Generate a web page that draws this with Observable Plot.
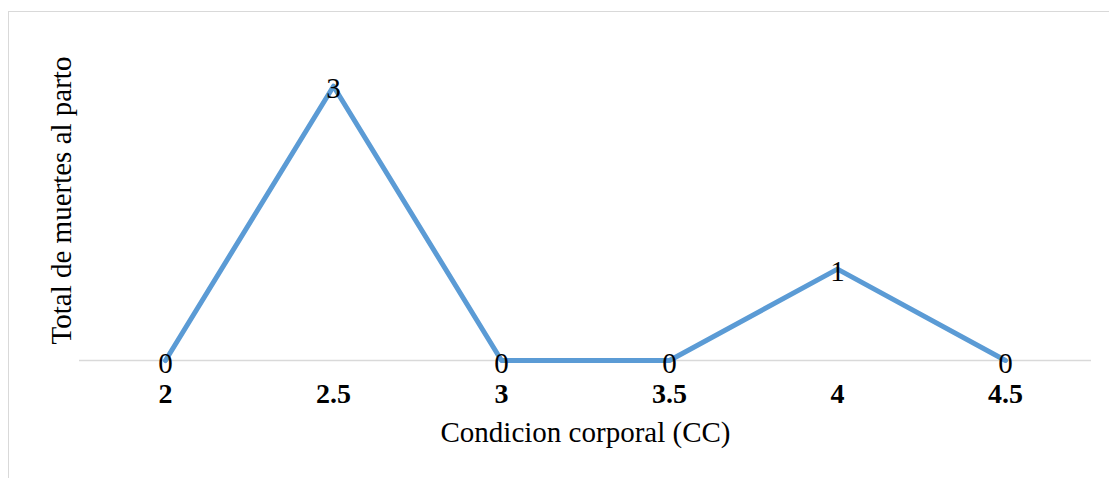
<!DOCTYPE html>
<html>
<head>
<meta charset="utf-8">
<script src="https://cdn.jsdelivr.net/npm/d3@7"></script>
<script src="https://cdn.jsdelivr.net/npm/@observablehq/plot@0.6"></script>
<style>
  body { margin: 0; background: #fff; }
  #chart { position: relative; width: 1109px; height: 478px; overflow: hidden; }
  #chart .border { position: absolute; left: 8px; top: 11px; width: 1200px; height: 600px;
                   border: 1px solid #d9d9d9; box-sizing: border-box; }
  #chart svg { position: absolute; left: 0; top: 0; }
  #chart svg [aria-label="x-axis tick label"] text { font-weight: bold; }
</style>
</head>
<body>
<div id="chart"><div class="border"></div></div>
<script>
// Body condition score categories and total deaths at calving
const condicion = ["2", "2.5", "3", "3.5", "4", "4.5"];
const muertes = [0, 3, 0, 0, 1, 0];
const tituloX = "Condicion corporal (CC)";
const tituloY = "Total de muertes al parto";

const data = condicion.map((c, i) => ({cc: c, total: muertes[i]}));
const serif = "'Liberation Serif', 'Times New Roman', Times, serif";

const chart = Plot.plot({
  width: 1109,
  height: 478,
  marginLeft: 79,
  marginRight: 18,
  marginTop: 40,
  marginBottom: 118,
  style: {fontFamily: serif, background: "transparent", color: "#000", overflow: "visible"},
  x: {type: "point", domain: condicion, padding: 0.5, axis: null},
  y: {domain: [0, 3.5], axis: null},
  marks: [
    Plot.ruleY([0], {stroke: "#d9d9d9", strokeWidth: 1.5}),
    Plot.axisX({tickSize: 0, tickPadding: 23, fontSize: 28, fontWeight: "bold", fill: "#000", label: null}),
    Plot.line(data, {x: "cc", y: "total", stroke: "#5b9bd5", strokeWidth: 5}),
    Plot.text(data, {x: "cc", y: "total", text: d => String(d.total), fontSize: 29, dy: 3, fill: "#000"}),
    Plot.text([tituloX], {text: d => d, frameAnchor: "bottom", textAnchor: "middle", dy: 81, fontSize: 29, fill: "#000"}),
    Plot.text([tituloY], {text: d => d, frameAnchor: "left", textAnchor: "middle", rotate: -90, dx: -18, fontSize: 29, fill: "#000"})
  ]
});

document.getElementById("chart").appendChild(chart);
</script>
</body>
</html>
